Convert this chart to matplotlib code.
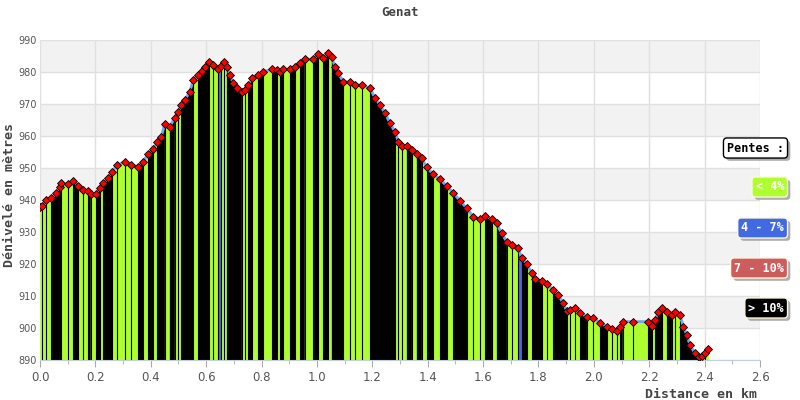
import matplotlib
matplotlib.use('Agg')
import matplotlib.pyplot as plt
import matplotlib.patheffects as pe
from matplotlib.ticker import MultipleLocator
import numpy as np

# ---- data ----
dist_km = [0.000, 0.007, 0.023, 0.041, 0.059, 0.071, 0.077, 0.101, 0.119, 0.137,
           0.155, 0.173, 0.185, 0.203, 0.216, 0.228, 0.246, 0.260, 0.278, 0.308,
           0.330, 0.354, 0.372, 0.390, 0.408, 0.424, 0.438, 0.450, 0.468, 0.486,
           0.498, 0.510, 0.523, 0.541, 0.553, 0.571, 0.585, 0.596, 0.610, 0.626,
           0.644, 0.654, 0.666, 0.674, 0.686, 0.698, 0.710, 0.728, 0.740, 0.752,
           0.765, 0.788, 0.806, 0.837, 0.855, 0.867, 0.879, 0.903, 0.921, 0.939,
           0.957, 0.987, 1.005, 1.023, 1.041, 1.053, 1.065, 1.077, 1.095, 1.120,
           1.138, 1.162, 1.192, 1.210, 1.228, 1.246, 1.264, 1.282, 1.294, 1.306,
           1.324, 1.342, 1.360, 1.378, 1.397, 1.420, 1.444, 1.469, 1.493, 1.517,
           1.541, 1.565, 1.589, 1.607, 1.631, 1.649, 1.667, 1.685, 1.704, 1.727,
           1.740, 1.758, 1.776, 1.788, 1.812, 1.830, 1.854, 1.872, 1.888, 1.902,
           1.914, 1.932, 1.950, 1.974, 1.998, 2.022, 2.047, 2.065, 2.083, 2.095,
           2.107, 2.143, 2.197, 2.209, 2.221, 2.233, 2.245, 2.263, 2.281, 2.293,
           2.311, 2.323, 2.336, 2.347, 2.365, 2.378, 2.390, 2.401, 2.413]
elev_m = [937.8, 938.2, 940.0, 940.5, 942.1, 944.2, 945.2, 944.9, 945.9, 944.5,
          943.1, 942.8, 941.8, 941.8, 943.7, 945.2, 946.8, 948.8, 950.9, 952.0,
          950.9, 950.4, 952.0, 954.3, 955.9, 958.0, 959.8, 963.7, 962.9, 965.5,
          967.6, 969.7, 971.3, 973.8, 977.5, 979.1, 980.3, 981.5, 983.2, 982.2,
          980.8, 981.9, 983.0, 981.7, 979.1, 976.5, 974.9, 973.8, 974.4, 975.9,
          978.0, 979.1, 980.1, 980.8, 980.6, 979.9, 980.9, 980.8, 981.5, 982.9,
          984.0, 984.0, 985.6, 984.3, 985.8, 984.8, 981.7, 979.6, 977.0, 976.8,
          975.9, 975.9, 974.9, 971.8, 969.7, 967.1, 964.0, 961.3, 958.2, 956.9,
          956.9, 955.6, 954.4, 953.0, 950.2, 948.0, 946.5, 944.4, 942.1, 939.8,
          937.4, 934.8, 934.0, 935.0, 934.0, 932.7, 929.6, 927.0, 925.9, 924.9,
          921.8, 920.0, 917.1, 915.2, 914.8, 913.7, 911.9, 910.3, 907.9, 905.4,
          905.6, 906.2, 904.8, 903.5, 903.0, 901.7, 900.4, 899.6, 899.1, 900.4,
          902.0, 902.0, 902.0, 900.6, 902.5, 905.1, 906.2, 905.1, 904.1, 905.1,
          904.1, 900.4, 897.8, 894.7, 892.1, 890.8, 891.3, 892.1, 893.3]

# slope class of each segment, as seen in the reference
# G: < 4%, B: 4 - 7%, R: 7 - 10%, K: > 10%
segment_class = ("GGGKKGGGKG" "GKGKGKKGGG" "GKGKGKKGKG" "GKKKGKKKGG"
                 "BGGKKKKGGK" "GKGKGKGKGK" "GKGKGKKKGG" "GGKKKKKGGG"
                 "KGKGKGKGKK" "GGGKGKKGGB" "KGKKGGKKKG" "GGKGGKGGGK"
                 "GGKGKKGKGG" "KKKKKGGG")

slope_codes = ['G', 'B', 'R', 'K']
slope_labels = ['< 4%', '4 - 7%', '7 - 10%', '> 10%']
slope_colors = ['#adff2f', '#4169e1', '#cd5c5c', '#000000']

x_ticks = [0.0, 0.2, 0.4, 0.6, 0.8, 1.0, 1.2, 1.4, 1.6, 1.8, 2.0, 2.2, 2.4, 2.6]
y_ticks = [890, 900, 910, 920, 930, 940, 950, 960, 970, 980, 990]

title = 'Genat'
x_label = 'Distance en km'
y_label = 'Dénivelé en mètres'
legend_title = 'Pentes :'

# ---- figure ----
fig = plt.figure(figsize=(8, 4), dpi=100)
ax = fig.add_axes([40 / 800, 40 / 400, 720 / 800, 320 / 400])
ax.set_xlim(x_ticks[0], x_ticks[-1])
ax.set_ylim(y_ticks[0], y_ticks[-1])

# alternating bands
for i in range(len(y_ticks) - 1):
    if (len(y_ticks) - 2 - i) % 2 == 0:
        ax.axhspan(y_ticks[i], y_ticks[i + 1], color='#f2f2f2', lw=0, zorder=0)
for yv in y_ticks:
    ax.axhline(yv, color='#e0e0e0', lw=1, zorder=0.5)
for xv in x_ticks:
    ax.axvline(xv, color='#e0e0e0', lw=1, zorder=0.5)

d = np.array(dist_km)
e = np.array(elev_m)
color_of = dict(zip(slope_codes, slope_colors))
for i, code in enumerate(segment_class):
    col = color_of[code]
    ax.fill_between(d[i:i + 2], e[i:i + 2], y_ticks[0], facecolor=col,
                    edgecolor=col, lw=0.3, zorder=1)
# thin dark separators between segments
ax.vlines(d[1:-1], y_ticks[0], e[1:-1], colors='black', lw=0.8, zorder=1.5)

ax.plot(d, e, color='#6fa8ec', lw=2, zorder=2)
ax.plot(d, e, linestyle='none', marker='D', ms=4, mfc='#ff0000', mec='black',
        mew=0.6, zorder=3)

ax.set_xticks(x_ticks)
ax.set_xticklabels([f'{v:.1f}' for v in x_ticks])
ax.xaxis.set_minor_locator(MultipleLocator(0.1))
ax.set_yticks(y_ticks)
ax.tick_params(axis='x', which='major', length=5, color='#aaaaaa', labelsize=8.5,
               labelcolor='#555555', pad=3)
ax.tick_params(axis='x', which='minor', length=3, color='#aaaaaa')
ax.tick_params(axis='y', length=0, labelsize=7, labelcolor='#555555', pad=2)
for s in ['top', 'right', 'left']:
    ax.spines[s].set_visible(False)
ax.spines['bottom'].set_color('#c0d0e0')

mono = 'DejaVu Sans Mono'
fig.text(0.5, 1 - 12 / 400, title, ha='center', va='center', family=mono,
         weight='bold', size=9, color='#444444')
fig.text(757 / 800, 1 - 395 / 400, x_label, ha='right', va='center', family=mono,
         weight='bold', size=9.5, color='#444444')
fig.text(10 / 800, 1 - 195 / 400, y_label, ha='center', va='center', rotation=90,
         family=mono, weight='bold', size=9.5, color='#444444')

# legend boxes
shadow = [pe.withSimplePatchShadow(offset=(2, -2), shadow_rgbFace='#999999', alpha=0.8)]
t = fig.text(784 / 800, 1 - 148 / 400, legend_title, ha='right', va='center',
             family=mono, weight='bold', size=8.5, color='black',
             bbox=dict(boxstyle='round,pad=0.3', fc='white', ec='black', lw=1))
t.get_bbox_patch().set_path_effects(shadow)
legend_y = [187, 228, 268, 308]
for lab, col, yy in zip(slope_labels, slope_colors, legend_y):
    t = fig.text(784 / 800, 1 - yy / 400, lab, ha='right', va='center',
                 family=mono, weight='bold', size=8.5, color='white',
                 bbox=dict(boxstyle='round,pad=0.3', fc=col, ec='#fff8dc', lw=1))
    t.get_bbox_patch().set_path_effects(shadow)

fig.savefig('out.png', dpi=100)
